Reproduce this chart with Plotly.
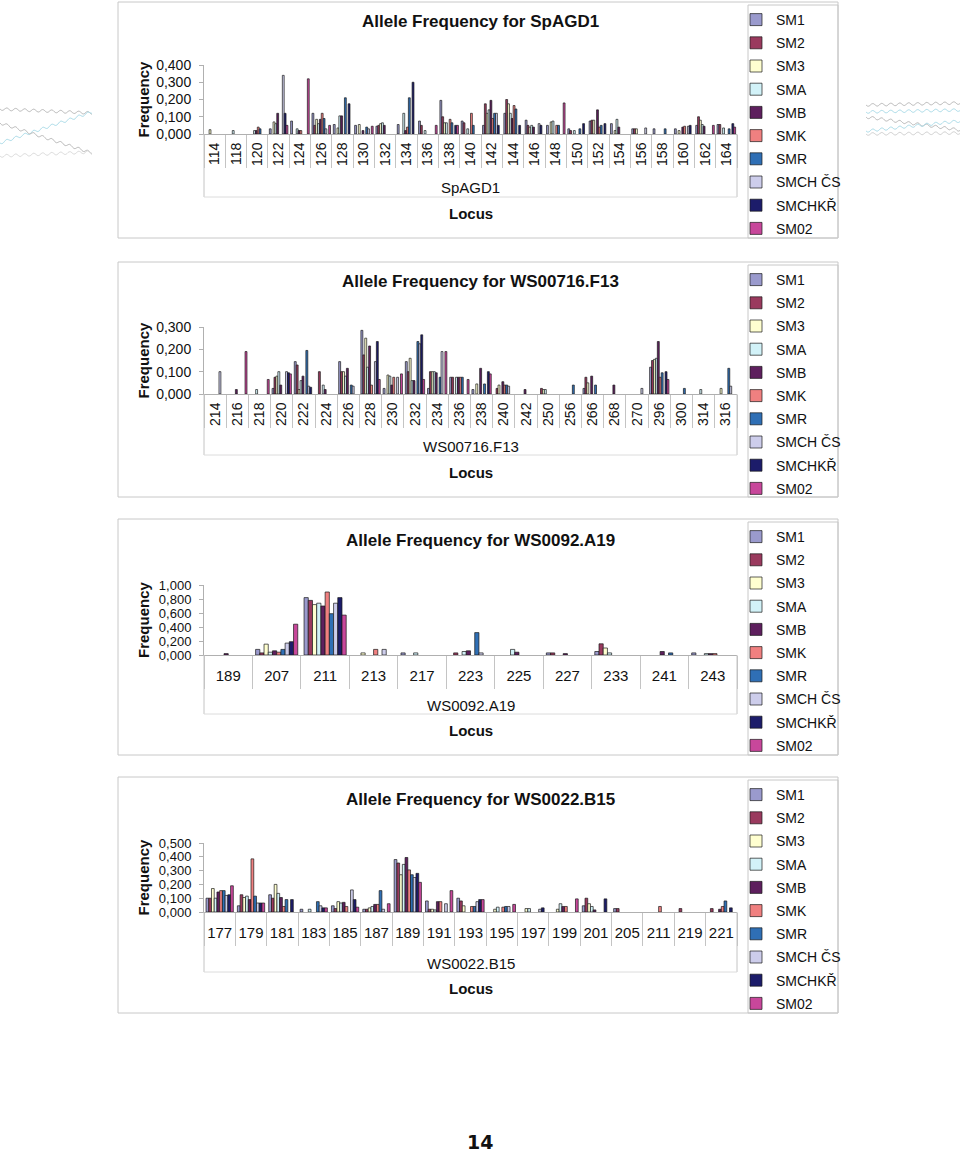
import numpy as np
import plotly.graph_objects as go

W, H = 960, 1152

SERIES = ["SM1", "SM2", "SM3", "SMA", "SMB", "SMK", "SMR", "SMCH ČS", "SMCHKŘ", "SM02"]
COLORS = ["#9A9ACD", "#9A3A5E", "#FFFFD0", "#D2F2F8", "#5E1F5E",
          "#F08080", "#2F6FB5", "#CDCDEB", "#1C1C6A", "#C8479B"]

# ---------------- SpAGD1 ----------------
SPAGD1_CATS = ["114", "118", "120", "122", "124", "126", "128", "130", "132", "134",
               "136", "138", "140", "142", "144", "146", "148", "150", "152", "154",
               "156", "158", "160", "162", "164"]
SPAGD1_ROWS = [
    [0, 0, 0.025, 0, 0, 0, 0, 0, 0, 0],
    [0, 0, 0, 0.02, 0, 0, 0, 0, 0, 0],
    [0, 0, 0, 0.02, 0.02, 0.04, 0.03, 0, 0, 0],
    [0.03, 0, 0.07, 0.06, 0.12, 0, 0, 0.34, 0.12, 0.05],
    [0.075, 0, 0, 0.03, 0.02, 0.02, 0, 0, 0, 0.32],
    [0.12, 0.05, 0.085, 0.06, 0.085, 0.12, 0.09, 0.03, 0, 0.05],
    [0.055, 0, 0.035, 0.105, 0.105, 0, 0.21, 0, 0.175, 0],
    [0.05, 0, 0.055, 0, 0.02, 0, 0.04, 0.03, 0, 0.045],
    [0.045, 0.05, 0.06, 0.065, 0.05, 0, 0, 0, 0, 0],
    [0.055, 0, 0, 0.12, 0.02, 0.04, 0.21, 0, 0.30, 0],
    [0.075, 0.05, 0, 0.02, 0, 0, 0, 0, 0, 0.05],
    [0.195, 0.10, 0.065, 0.065, 0, 0.085, 0.065, 0, 0.05, 0.05],
    [0.075, 0.065, 0, 0.03, 0, 0.12, 0.05, 0, 0, 0],
    [0.05, 0.175, 0.12, 0.14, 0.195, 0.09, 0.12, 0.12, 0.05, 0],
    [0.12, 0.20, 0.175, 0.12, 0.09, 0.165, 0.145, 0, 0.05, 0],
    [0.08, 0.05, 0.04, 0.05, 0.04, 0, 0, 0.06, 0.05, 0],
    [0.05, 0, 0.07, 0.075, 0, 0.05, 0.05, 0, 0, 0.18],
    [0.03, 0.02, 0, 0.02, 0, 0, 0.03, 0, 0.06, 0],
    [0.075, 0.08, 0.08, 0, 0.14, 0.04, 0.05, 0, 0.06, 0],
    [0.06, 0, 0.02, 0.085, 0.04, 0, 0, 0, 0, 0],
    [0.03, 0.03, 0.03, 0, 0, 0, 0, 0.035, 0, 0],
    [0.03, 0, 0, 0, 0, 0, 0.03, 0, 0, 0],
    [0.03, 0, 0.02, 0, 0.04, 0.045, 0, 0.045, 0.05, 0],
    [0.05, 0.10, 0.08, 0.055, 0.045, 0, 0, 0, 0, 0.05],
    [0.055, 0.055, 0, 0.035, 0, 0, 0.03, 0, 0.06, 0.04],
]

# ---------------- WS00716.F13 ----------------
F13_CATS = ["214", "216", "218", "220", "222", "224", "226", "228", "230", "232",
            "234", "236", "238", "240", "242", "250", "256", "266", "268", "270",
            "296", "300", "314", "316"]
F13_ROWS = [
    [0, 0, 0, 0, 0, 0, 0, 0.10, 0, 0],
    [0, 0, 0, 0, 0.02, 0, 0, 0, 0, 0.19],
    [0, 0, 0, 0.02, 0, 0, 0, 0, 0, 0.065],
    [0.025, 0.075, 0.08, 0.10, 0.04, 0, 0, 0.10, 0.095, 0.09],
    [0.145, 0.13, 0.02, 0.06, 0.08, 0, 0.195, 0.035, 0.03, 0],
    [0, 0.10, 0, 0.04, 0.02, 0, 0, 0, 0, 0],
    [0.145, 0.10, 0.10, 0.08, 0.115, 0, 0.04, 0.035, 0, 0],
    [0.285, 0.175, 0.25, 0.12, 0.215, 0.04, 0, 0.145, 0.235, 0.065],
    [0.025, 0, 0.085, 0.08, 0.04, 0.075, 0, 0.075, 0, 0.09],
    [0.145, 0.10, 0.16, 0.06, 0.06, 0, 0.235, 0.225, 0.265, 0.065],
    [0.025, 0.10, 0.10, 0.10, 0.095, 0, 0.075, 0.19, 0, 0.19],
    [0.075, 0.075, 0, 0.075, 0.075, 0.075, 0.075, 0, 0, 0.065],
    [0.02, 0, 0.045, 0, 0.115, 0, 0.045, 0, 0.10, 0.09],
    [0, 0.025, 0.04, 0, 0.055, 0.04, 0.04, 0.035, 0, 0],
    [0, 0, 0, 0, 0.02, 0, 0, 0, 0, 0],
    [0, 0.025, 0.02, 0.02, 0, 0, 0, 0, 0, 0],
    [0, 0, 0, 0, 0, 0, 0.04, 0, 0, 0],
    [0.025, 0.075, 0.05, 0, 0.08, 0, 0.04, 0, 0, 0],
    [0, 0, 0, 0, 0.04, 0, 0, 0, 0, 0],
    [0, 0, 0, 0, 0, 0, 0, 0.025, 0, 0],
    [0.12, 0.15, 0.155, 0.16, 0.235, 0.075, 0.095, 0, 0.10, 0.065],
    [0, 0, 0, 0, 0, 0, 0.025, 0, 0, 0],
    [0, 0, 0, 0.02, 0, 0, 0, 0, 0, 0],
    [0, 0, 0.025, 0, 0, 0, 0.115, 0.035, 0, 0],
]

# ---------------- WS0092.A19 ----------------
A19_CATS = ["189", "207", "211", "213", "217", "223", "225", "227", "233", "241", "243"]
A19_ROWS = [
    [0, 0, 0, 0, 0.02, 0, 0, 0, 0, 0],
    [0.08, 0.03, 0.155, 0.04, 0.06, 0.04, 0.08, 0.17, 0.19, 0.44],
    [0.82, 0.78, 0.72, 0.74, 0.70, 0.90, 0.59, 0.74, 0.82, 0.57],
    [0, 0, 0.03, 0, 0, 0.08, 0, 0.08, 0, 0],
    [0.03, 0, 0, 0.03, 0, 0, 0, 0, 0, 0],
    [0, 0.03, 0, 0.05, 0.06, 0, 0.32, 0.03, 0, 0],
    [0, 0, 0, 0.08, 0.04, 0, 0, 0, 0, 0],
    [0.03, 0.03, 0, 0, 0.02, 0, 0, 0, 0, 0],
    [0.05, 0.16, 0.10, 0.03, 0, 0, 0, 0, 0, 0],
    [0, 0, 0, 0, 0.05, 0, 0.03, 0, 0, 0],
    [0.03, 0, 0, 0.02, 0.02, 0.02, 0, 0, 0, 0],
]

# ---------------- WS0022.B15 ----------------
B15_CATS = ["177", "179", "181", "183", "185", "187", "189", "191", "193", "195",
            "197", "199", "201", "205", "211", "219", "221"]
B15_ROWS = [
    [0.10, 0.10, 0.17, 0.10, 0.145, 0.155, 0.155, 0.12, 0.125, 0.19],
    [0.045, 0.125, 0.105, 0.115, 0.09, 0.385, 0.115, 0.065, 0.065, 0.065],
    [0.125, 0.10, 0.20, 0.135, 0.105, 0.04, 0.09, 0, 0.09, 0],
    [0.02, 0, 0, 0.02, 0, 0, 0.075, 0.045, 0.03, 0.03],
    [0.045, 0.025, 0.075, 0.065, 0.07, 0.04, 0, 0.16, 0.09, 0.035],
    [0.02, 0.02, 0.03, 0.04, 0.055, 0.055, 0.155, 0.02, 0, 0.06],
    [0.38, 0.355, 0.27, 0.345, 0.395, 0.305, 0.27, 0.25, 0.28, 0.215],
    [0.08, 0.02, 0.02, 0.015, 0.075, 0.075, 0, 0.06, 0, 0.155],
    [0.10, 0.08, 0.045, 0, 0, 0.04, 0.04, 0.075, 0.09, 0.09],
    [0, 0, 0.02, 0.035, 0, 0.035, 0.04, 0.04, 0, 0.055],
    [0, 0, 0.025, 0.025, 0, 0, 0, 0.02, 0.03, 0],
    [0, 0, 0.02, 0.06, 0.04, 0.04, 0, 0, 0, 0.095],
    [0.045, 0.10, 0.06, 0.04, 0.015, 0, 0, 0, 0.095, 0],
    [0.025, 0.025, 0, 0, 0, 0, 0, 0, 0, 0],
    [0, 0, 0, 0, 0, 0.04, 0, 0, 0, 0],
    [0, 0.025, 0, 0, 0, 0, 0, 0, 0, 0],
    [0, 0.025, 0, 0, 0.02, 0.04, 0.08, 0, 0.03, 0],
]

PANELS = [
    dict(name="SpAGD1", cats=SPAGD1_CATS, rows=SPAGD1_ROWS, ymax=0.4, dtick=0.1,
         frame=(2, 238), plot=(65, 134), title_y=22, outer_y=188, locus_y=213, angle=-90),
    dict(name="WS00716.F13", cats=F13_CATS, rows=F13_ROWS, ymax=0.3, dtick=0.1,
         frame=(262, 497), plot=(327, 394), title_y=282, outer_y=446, locus_y=472, angle=-90),
    dict(name="WS0092.A19", cats=A19_CATS, rows=A19_ROWS, ymax=1.0, dtick=0.2,
         frame=(519, 755), plot=(585, 655), title_y=540, outer_y=705, locus_y=730, angle=0),
    dict(name="WS0022.B15", cats=B15_CATS, rows=B15_ROWS, ymax=0.5, dtick=0.1,
         frame=(777, 1013), plot=(843, 912), title_y=799, outer_y=963, locus_y=988, angle=0),
]

X0, X1 = 204, 737
FONT = "Arial, 'Liberation Sans', sans-serif"
GRAY = "#c4c4c4"


def px(x):
    return x / W


def py(y):
    return 1 - y / H


fig = go.Figure()
layout = dict(
    width=W, height=H, margin=dict(l=0, r=0, t=0, b=0, pad=0, autoexpand=False),
    paper_bgcolor="white", plot_bgcolor="white",
    barmode="group", bargap=0.13, bargroupgap=0,
    separators=", ", font=dict(family=FONT, color="#111"),
    showlegend=True,
)
shapes = []
annotations = []

for k, p in enumerate(PANELS, start=1):
    sfx = "" if k == 1 else str(k)
    xa, ya = "x" + sfx, "y" + sfx
    leg = "legend" + sfx
    for si, s in enumerate(SERIES):
        vals = [row[si] for row in p["rows"]]
        fig.add_trace(go.Bar(
            x=p["cats"], y=[v if v > 0 else None for v in vals], name=s,
            xaxis=xa, yaxis=ya, legend=leg, legendgroup=f"{k}-{s}",
            marker=dict(color=COLORS[si], line=dict(color="#1a1a1a", width=0.7)),
            showlegend=True, hoverinfo="x+y+name",
        ))
    top, bot = p["plot"]
    layout["xaxis" + sfx] = dict(
        domain=[px(X0), px(X1)], anchor=ya, type="category", automargin=False,
        categoryorder="array", categoryarray=p["cats"],
        showline=True, linecolor="#b0b0b0", linewidth=1,
        ticks="outside", tickson="boundaries", ticklen=33, tickcolor=GRAY,
        tickwidth=1, tickangle=p["angle"],
        tickfont=dict(size=14 if p["angle"] else 15, family=FONT, color="#111"),
        ticklabelstandoff=2 if p["angle"] else 7,
        showgrid=False, zeroline=False, fixedrange=True,
    )
    layout["yaxis" + sfx] = dict(
        domain=[py(bot), py(top)], anchor=xa, range=[0, p["ymax"]], automargin=False,
        dtick=p["dtick"], tick0=0, tickformat=".3f",
        showline=True, linecolor="#b0b0b0", linewidth=1,
        ticks="outside", ticklen=4, tickcolor="#b0b0b0",
        tickfont=dict(size=14 if k <= 2 else 13, family=FONT, color="#111"),
        ticklabelstandoff=5,
        showgrid=False, zeroline=False, fixedrange=True,
    )
    f0, f1 = p["frame"]
    layout[leg] = dict(
        x=px(736), y=py(f0 + 2), xanchor="left", yanchor="top",
        bgcolor="rgba(0,0,0,0)", borderwidth=0,
        font=dict(size=14, family=FONT, color="#111"),
        traceorder="grouped", tracegroupgap=2, itemwidth=30,
        itemclick=False, itemdoubleclick=False,
    )
    # panel frame and legend box
    shapes.append(dict(type="rect", xref="paper", yref="paper",
                       x0=px(118), x1=px(838), y0=py(f1), y1=py(f0),
                       line=dict(color="#c8c8c8", width=1)))
    shapes.append(dict(type="rect", xref="paper", yref="paper",
                       x0=px(748), x1=px(838), y0=py(f1), y1=py(f0 + 3),
                       line=dict(color="#c8c8c8", width=1)))
    # outer category level lines
    line_y = p["outer_y"] + 9
    for xd in (0, 1):
        shapes.append(dict(type="line", xref=xa + " domain", yref="paper",
                           x0=xd, x1=xd, y0=py(bot), y1=py(line_y),
                           line=dict(color=GRAY, width=1)))
    shapes.append(dict(type="line", xref=xa + " domain", yref="paper",
                       x0=0, x1=1, y0=py(line_y), y1=py(line_y),
                       line=dict(color="#dcdcdc", width=1)))
    cx = px((X0 + X1) / 2)
    annotations += [
        dict(text="<b>Allele Frequency for %s</b>" % p["name"], xref="paper", yref="paper",
             x=px(480), y=py(p["title_y"]), showarrow=False,
             font=dict(size=17, family=FONT, color="#111"), xanchor="center", yanchor="middle"),
        dict(text=p["name"], xref="paper", yref="paper", x=cx, y=py(p["outer_y"]),
             showarrow=False, font=dict(size=15, family=FONT, color="#111"),
             xanchor="center", yanchor="middle"),
        dict(text="<b>Locus</b>", xref="paper", yref="paper", x=cx, y=py(p["locus_y"]),
             showarrow=False, font=dict(size=15, family=FONT, color="#111"),
             xanchor="center", yanchor="middle"),
        dict(text="<b>Frequency</b>", xref="paper", yref="paper", x=px(143),
             y=py((top + bot) / 2), showarrow=False, textangle=-90,
             font=dict(size=15, family=FONT, color="#111"),
             xanchor="center", yanchor="middle"),
    ]

annotations.append(dict(text="<b>14</b>", xref="paper", yref="paper", x=px(480), y=py(1142),
                        showarrow=False, font=dict(size=19, family="'DejaVu Sans', sans-serif",
                                                   color="#111"),
                        xanchor="center", yanchor="middle"))


# decorative wavy lines (page ornament)
def wave(xa_, ya_, xb, yb, amp=1.3, period=9.0):
    t = np.linspace(0, 1, 120)
    xs = xa_ + (xb - xa_) * t
    ys = ya_ + (yb - ya_) * t + amp * np.sin(2 * np.pi * (xs - xa_) / period)
    pts = " L ".join("%.4f %.4f" % (px(x), py(y)) for x, y in zip(xs, ys))
    return "M " + pts


ORN = [
    (0, 109, 92, 113, "#b8b8b8"), (0, 143, 92, 112, "#a9dbe8"),
    (0, 123, 92, 153, "#b8b8b8"), (0, 156, 92, 152, "#dadada"),
    (866, 105, 960, 103, "#b8b8b8"), (866, 112, 960, 110, "#a9dbe8"),
    (866, 117, 960, 130, "#b8b8b8"), (866, 131, 960, 121, "#a9dbe8"),
    (866, 134, 960, 133, "#cfcfcf"),
]
for a, b, c, d, col in ORN:
    shapes.append(dict(type="path", xref="paper", yref="paper", path=wave(a, b, c, d),
                       line=dict(color=col, width=1)))

layout["shapes"] = shapes
layout["annotations"] = annotations
fig.update_layout(**layout)

PAGE_CSS = (
    "var s=document.createElement('style');"
    "s.textContent='html,body{margin:0!important;padding:0!important;overflow:hidden;"
    "height:%dpx;}body>div{font-size:0;line-height:0;}';"
    "document.head.appendChild(s);" % H
)
fig.write_html("out.html", config={"displayModeBar": False}, post_script=PAGE_CSS)
